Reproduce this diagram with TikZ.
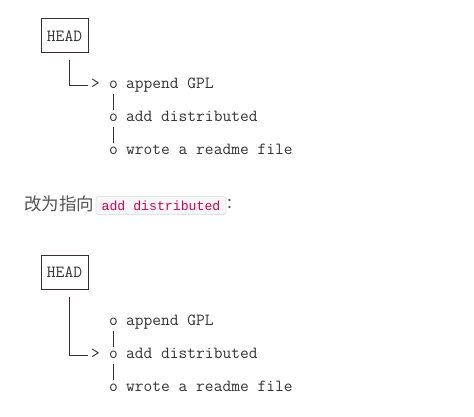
\documentclass[tikz,border=0pt]{standalone}
\usepackage{fontspec}
\newfontfamily\cjkfont{Noto Sans CJK SC}
\newfontfamily\codefont{Liberation Mono}
\definecolor{linec}{HTML}{3E2A38}
\definecolor{txtc}{HTML}{333333}
\definecolor{cjkc}{HTML}{555555}
\definecolor{codec}{HTML}{D6005A}
\definecolor{codebg}{HTML}{F8F8F8}
\definecolor{codebd}{HTML}{E2E2E2}
\tikzset{
  asc/.style={font=\ttfamily\fontsize{17}{19}\selectfont, text=txtc, inner sep=0pt, anchor=base west},
  headbox/.style={draw=linec, line width=1pt, minimum width=47pt, minimum height=34pt, inner sep=0pt, font=\ttfamily\fontsize{17}{19}\selectfont, text=txtc},
  link/.style={draw=linec, line width=1pt},
  bar/.style={draw=linec, line width=1.1pt},
}
\begin{document}
\begin{tikzpicture}[x=1pt,y=-1pt]
\useasboundingbox (0,0) rectangle (474,417);
% ---- top diagram
\node[headbox] (head1) at (64.5,36) {HEAD};
\node[asc] (arr1) at (91,89) {>};
\node[asc] (o11) at (109,89) {o};
\node[asc] (t11) at (126,89) {append GPL};
\node[asc] (o12) at (109,122) {o};
\node[asc] (t12) at (126,122) {add distributed};
\node[asc] (o13) at (109,155) {o};
\node[asc] (t13) at (126,155) {wrote a readme file};
\coordinate (s1) at (69,60);
\draw[link] (s1) |- ([xshift=-3pt,yshift=3.5pt]arr1.base west);
\draw[bar] ([yshift=-5pt]o11.base) -- ([yshift=-21pt]o11.base);
\draw[bar] ([yshift=-5pt]o12.base) -- ([yshift=-21pt]o12.base);
% ---- middle sentence
\node[font=\cjkfont\fontsize{17.5}{20}\selectfont, text=cjkc, inner sep=0pt, anchor=west] (zh) at (24,204) {改为指向};
\node[draw=codebd, fill=codebg, rounded corners=2.5pt, line width=0.8pt, minimum width=130pt, minimum height=18pt, inner sep=0pt, font=\codefont\fontsize{13.2}{15}\selectfont, text=codec] (code) at (161,205.5) {add distributed};
\node[font=\cjkfont\fontsize{17.5}{20}\selectfont, text=cjkc, inner sep=0pt, anchor=west] (colon) at (227,204) {:};
% ---- bottom diagram
\node[headbox] (head2) at (64.5,272.5) {HEAD};
\node[asc] (o21) at (109,325.5) {o};
\node[asc] (t21) at (126,325.5) {append GPL};
\node[asc] (arr2) at (91,358.5) {>};
\node[asc] (o22) at (109,358.5) {o};
\node[asc] (t22) at (126,358.5) {add distributed};
\node[asc] (o23) at (109,391.5) {o};
\node[asc] (t23) at (126,391.5) {wrote a readme file};
\coordinate (s2) at (69,297);
\draw[link] (s2) |- ([xshift=-3pt,yshift=3.5pt]arr2.base west);
\draw[bar] ([yshift=-5pt]o21.base) -- ([yshift=-21pt]o21.base);
\draw[bar] ([yshift=-5pt]o22.base) -- ([yshift=-21pt]o22.base);
\end{tikzpicture}
\end{document}
